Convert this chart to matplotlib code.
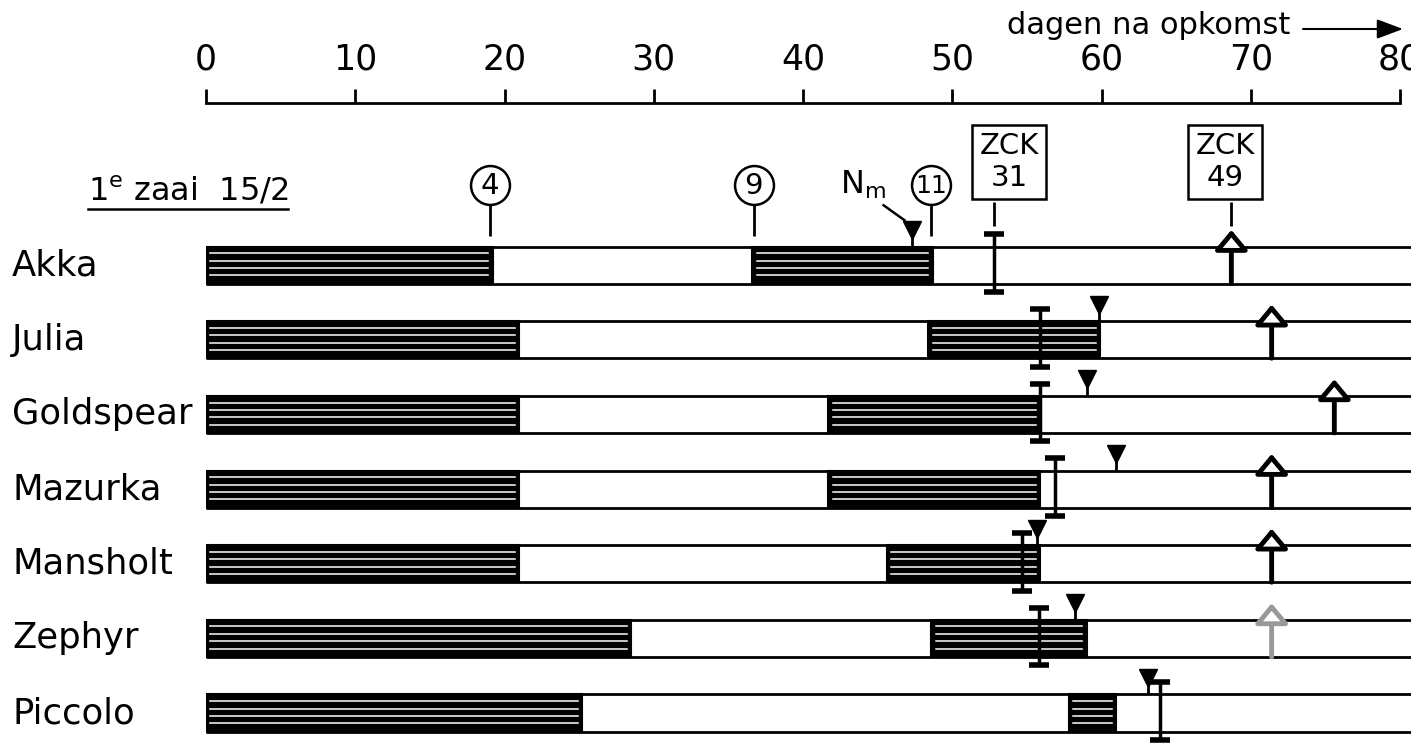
import matplotlib.pyplot as plt
from matplotlib.transforms import blended_transform_factory

# data (days after emergence)
varieties = ['Akka', 'Julia', 'Goldspear', 'Mazurka', 'Mansholt', 'Zephyr', 'Piccolo']
phase1_end = [19.2, 21.0, 21.0, 21.0, 21.0, 28.5, 25.2]
phase2_start = [36.6, 48.4, 41.7, 41.7, 45.6, 48.6, 57.8]
phase2_end = [48.7, 59.9, 55.9, 55.9, 55.9, 59.0, 61.0]
nm_day = [47.3, 59.8, 59.0, 61.0, 55.7, 58.2, 63.1]
zck31_day = [52.8, 55.9, 55.9, 56.9, 54.7, 55.8, 63.9]
zck49_day = [68.7, 71.4, 75.6, 71.4, 71.4, 71.4, None]

stage_days = [19.0, 36.7, 48.6]
stage_labels = ['4', '9', '11']
day_ticks = [0, 10, 20, 30, 40, 50, 60, 70, 80]

W, H = 1411, 744
fig = plt.figure(figsize=(W / 100, H / 100), dpi=100)
fig.patch.set_facecolor('white')

# axes: top spine is the day scale
ax = fig.add_axes([206 / W, 0, (1400 - 206) / W, (H - 103) / H])
ax.set_xlim(0, 80)
ax.set_ylim(6.415, -2.170)
for s in ['left', 'right', 'bottom']:
    ax.spines[s].set_visible(False)
ax.spines['top'].set_linewidth(2)
ax.xaxis.tick_top()
ax.set_xticks(day_ticks)
ax.tick_params(axis='x', direction='out', length=10, width=2, pad=9, labelsize=25)
ax.set_yticks([])

half = 0.248  # half bar height in row units
rows = list(range(len(varieties)))

# row outlines
for r in rows:
    ax.plot([0, 81], [r - half, r - half], color='k', lw=2, clip_on=False, solid_capstyle='butt')
    ax.plot([0, 81], [r + half, r + half], color='k', lw=2, clip_on=False, solid_capstyle='butt')

# hatched bars: black with white stripes
starts = [0] * len(rows) + phase2_start
ends = phase1_end + phase2_end
bar_rows = rows + rows
ax.barh(bar_rows, [e - s for s, e in zip(starts, ends)], left=starts,
        height=2 * half, color='k', edgecolor='k', lw=1.5)
for r, s, e in zip(bar_rows, starts, ends):
    for f in [0.18, 0.38, 0.58, 0.78]:
        ax.plot([s + 0.3, e - 0.3], [r - half + f * 2 * half] * 2, color='white', lw=1.1)

# ZCK 31 range bars
lo = [0.41] * len(rows)
hi = [0.36] * len(rows)
ax.errorbar(zck31_day, rows, yerr=[lo, hi], fmt='none', ecolor='k',
            elinewidth=2.5, capsize=7, capthick=4, clip_on=False)

# N_m triangles with small stems
ax.vlines(nm_day, [r - 0.40 for r in rows], [r - half for r in rows], color='k', lw=2)
ax.plot(nm_day, [r - 0.47 for r in rows], 'v', color='k', ms=13, clip_on=False)

# ZCK 49 arrows
for r, x in zip(rows, zck49_day):
    if x is None:
        continue
    col = '0.6' if varieties[r] == 'Zephyr' else 'k'
    ax.annotate('', xy=(x, r - 0.47), xytext=(x, r + half),
                arrowprops=dict(arrowstyle='-|>,head_length=0.6,head_width=0.5',
                                lw=3.5, fc='white', ec=col, mutation_scale=20,
                                shrinkA=0, shrinkB=0))

# stage circles above the first row
for x, lab in zip(stage_days, stage_labels):
    ax.vlines(x, -0.83, -0.39, color='k', lw=2, clip_on=False)
    ax.plot(x, -1.07, 'o', ms=28, mfc='white', mec='k', mew=1.8, clip_on=False)
    ax.text(x, -1.06, lab, ha='center', va='center', fontsize=21 if len(lab) == 1 else 18)

# N_m label with leader line
ax.text(44.0, -1.07, r'N$_\mathrm{m}$', ha='center', va='center', fontsize=23)
ax.plot([45.4, 46.8], [-0.80, -0.60], color='k', lw=1.8, clip_on=False)

# ZCK boxes
for x, dx, lab in [(zck31_day[0], 1.0, '31'), (zck49_day[0], -0.4, '49')]:
    ax.vlines(x, -0.84, -0.52, color='k', lw=2, clip_on=False)
    ax.text(x + dx, -1.38, 'ZCK\n' + lab, ha='center', va='center', fontsize=21,
            linespacing=1.15,
            bbox=dict(boxstyle='square,pad=0.25', fc='white', ec='k', lw=1.8))

# row labels
tr = blended_transform_factory(fig.transFigure, ax.transData)
for r, name in zip(rows, varieties):
    ax.text(12 / W, r, name, transform=tr, ha='left', va='center', fontsize=25.5)

# heading left
t = fig.text(88 / W, 1 - 200 / H, r'1$^{\mathrm{e}}$ zaai  15/2', ha='left',
             va='baseline', fontsize=23)
fig.canvas.draw()
bb = t.get_window_extent(fig.canvas.get_renderer())
fig.add_artist(plt.Line2D([bb.x0 / W, bb.x1 / W], [1 - 209 / H, 1 - 209 / H],
                          color='k', lw=1.8))

# axis title with arrow
fig.text(1290 / W, 1 - 34 / H, 'dagen na opkomst', ha='right', va='baseline', fontsize=22)
ax.annotate('', xy=(1403 / W, 1 - 29 / H), xytext=(1303 / W, 1 - 29 / H),
            xycoords='figure fraction', textcoords='figure fraction',
            arrowprops=dict(arrowstyle='-|>,head_length=0.8,head_width=0.3',
                            lw=1.5, color='k', mutation_scale=20, shrinkA=0, shrinkB=0))

fig.savefig('out.png', dpi=100)
